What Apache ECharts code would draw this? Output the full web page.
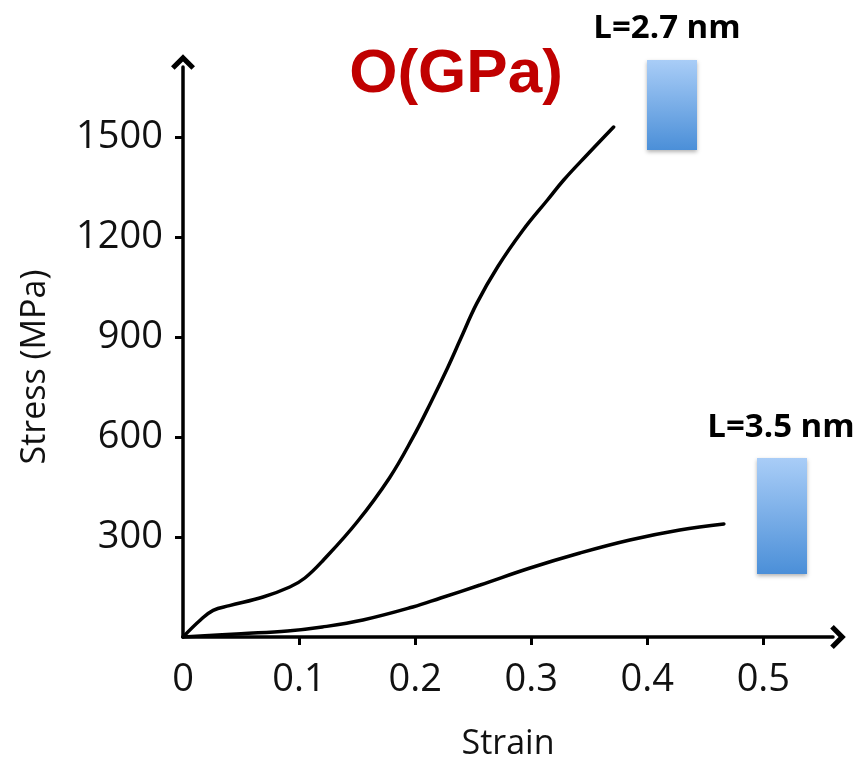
<!DOCTYPE html>
<html>
<head>
<meta charset="utf-8">
<script src="https://cdn.jsdelivr.net/npm/echarts@6/dist/echarts.min.js"></script>
<style>
  html, body { margin: 0; padding: 0; background: #ffffff; }
  #chart { width: 865px; height: 765px; }
</style>
</head>
<body>
<div id="chart"></div>
<script>
// Stress-strain curves for two nanowire lengths
const strainShort = [0, 0.015, 0.026, 0.040, 0.069, 0.092, 0.105, 0.121, 0.150, 0.178, 0.198, 0.213, 0.228, 0.239, 0.253, 0.271, 0.293, 0.314, 0.328, 0.348, 0.371];
const stressShort = [0, 51, 80, 94, 120, 150, 177, 231, 345, 478, 598, 700, 808, 893, 1000, 1110, 1221, 1311, 1371, 1446, 1530];

const strainLong = [0, 0.05, 0.09, 0.12, 0.155, 0.198, 0.222, 0.256, 0.299, 0.342, 0.385, 0.428, 0.466];
const stressLong = [0, 10, 18, 30, 51, 90, 117, 156, 207, 252, 291, 321, 339];

const strainTicks = [0, 0.1, 0.2, 0.3, 0.4, 0.5];
const stressTicks = [300, 600, 900, 1200, 1500];

const lengthLabels = ['L=2.7 nm', 'L=3.5 nm'];
const titleText = 'O(GPa)';

const zip = (xs, ys) => xs.map((x, i) => [x, ys[i]]);

const chart = echarts.init(document.getElementById('chart'), null, { renderer: 'canvas' });

const tickFont = '"Open Sans", "Liberation Sans", sans-serif';
// open chevron arrow head for the axis ends
const chevron = 'path://M10,0 L20,10 L17,13 L10,6 L3,13 L0,10 Z';

const barFill = new echarts.graphic.LinearGradient(0, 0, 0, 1, [
  { offset: 0, color: '#a9cdf7' },
  { offset: 1, color: '#4b8fd8' }
]);

chart.setOption({
  animation: false,
  backgroundColor: '#ffffff',
  title: {
    text: titleText,
    left: 451,
    top: 39,
    textAlign: 'center',
    textStyle: {
      fontFamily: '"Liberation Sans", Arial, sans-serif',
      fontWeight: 'bold',
      fontSize: 62,
      color: '#c00000'
    }
  },
  grid: { left: 183, right: 32, top: 67, bottom: 128, containLabel: false, outerBoundsMode: 'none' },
  xAxis: {
    type: 'value',
    min: 0,
    max: 0.56,
    interval: 0.1,
    name: 'Strain',
    nameLocation: 'middle',
    nameGap: 90,
    nameTextStyle: { fontFamily: tickFont, fontSize: 34, color: '#111' },
    splitLine: { show: false },
    axisLine: {
      lineStyle: { color: '#000', width: 3.5 },
      symbol: ['none', chevron],
      symbolSize: [24, 16],
      symbolOffset: [0, 5]
    },
    axisTick: {
      show: true, inside: false, length: 8,
      lineStyle: { color: '#000', width: 3 },
      customValues: strainTicks.slice(1)
    },
    axisLabel: {
      margin: 24,
      fontFamily: tickFont,
      fontSize: 38,
      color: '#111',
      customValues: strainTicks,
      formatter: v => String(v)
    }
  },
  yAxis: {
    type: 'value',
    min: 0,
    max: 1710,
    interval: 300,
    name: 'Stress (MPa)',
    nameLocation: 'middle',
    nameGap: 131,
    nameTextStyle: { fontFamily: tickFont, fontSize: 34, color: '#111', padding: [0, 30, 0, 0] },
    splitLine: { show: false },
    axisLine: {
      lineStyle: { color: '#000', width: 3.5 },
      symbol: ['none', chevron],
      symbolSize: [24, 16],
      symbolOffset: [0, 5]
    },
    axisTick: {
      show: true, inside: false, length: 8,
      lineStyle: { color: '#000', width: 3 },
      customValues: stressTicks
    },
    axisLabel: {
      margin: 20,
      fontFamily: tickFont,
      fontSize: 38,
      color: '#111',
      customValues: stressTicks,
      formatter: v => String(v)
    }
  },
  series: [
    {
      name: lengthLabels[0],
      type: 'line',
      data: zip(strainShort, stressShort),
      smooth: 0.4,
      showSymbol: false,
      symbol: 'none',
      lineStyle: { color: '#000', width: 3.5, cap: 'round' },
      z: 3
    },
    {
      name: lengthLabels[1],
      type: 'line',
      data: zip(strainLong, stressLong),
      smooth: 0.4,
      showSymbol: false,
      symbol: 'none',
      lineStyle: { color: '#000', width: 3.5, cap: 'round' },
      z: 3
    }
  ],
  graphic: [
    {
      type: 'rect',
      shape: { x: 647, y: 60, width: 50, height: 90 },
      style: { fill: barFill, shadowBlur: 4, shadowOffsetY: 2, shadowColor: 'rgba(0,0,0,0.3)' }
    },
    {
      type: 'rect',
      shape: { x: 757, y: 458, width: 50, height: 116 },
      style: { fill: barFill, shadowBlur: 4, shadowOffsetY: 2, shadowColor: 'rgba(0,0,0,0.3)' }
    },
    {
      type: 'text',
      x: 667, y: 29,
      style: {
        text: lengthLabels[0],
        fontFamily: tickFont, fontWeight: 'bold', fontSize: 33, fill: '#000',
        align: 'center', verticalAlign: 'middle'
      }
    },
    {
      type: 'text',
      x: 781, y: 428,
      style: {
        text: lengthLabels[1],
        fontFamily: tickFont, fontWeight: 'bold', fontSize: 33, fill: '#000',
        align: 'center', verticalAlign: 'middle'
      }
    }
  ]
});
</script>
</body>
</html>
